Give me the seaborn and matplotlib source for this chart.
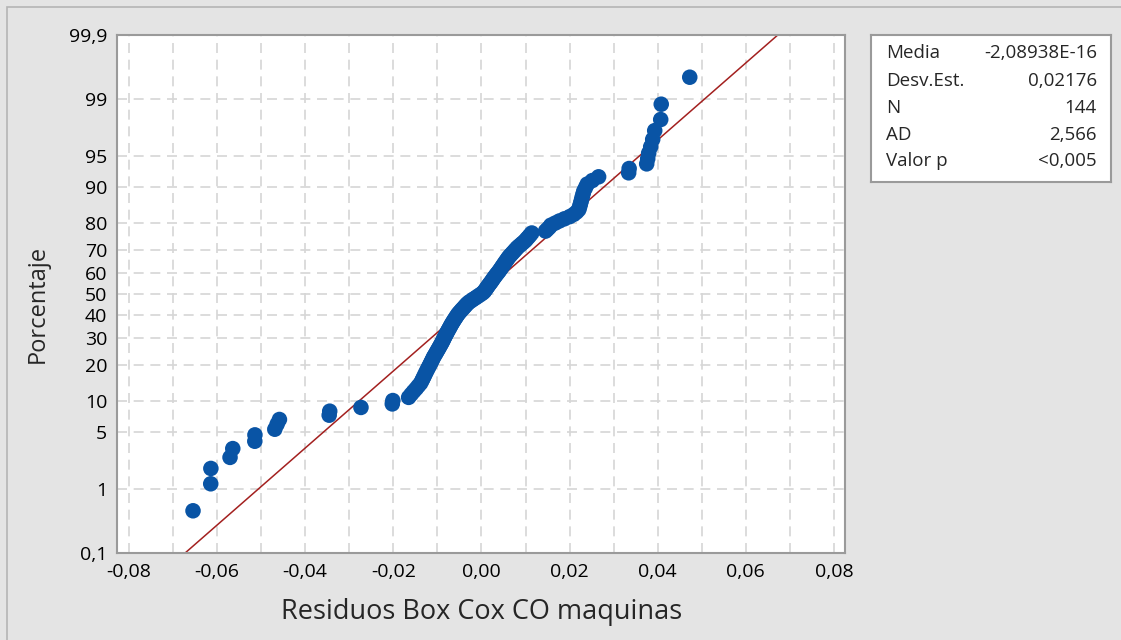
import numpy as np
import pandas as pd
import matplotlib
matplotlib.use("Agg")
import matplotlib.pyplot as plt
from matplotlib.patches import Rectangle
from matplotlib.ticker import FixedLocator, MultipleLocator, FuncFormatter
from statistics import NormalDist
import seaborn as sns

# Box-Cox residuals (sorted)
residuals = [
    -0.06545, -0.06143, -0.06140, -0.05705, -0.05643, -0.05143, -0.05140, -0.04689,
    -0.04636, -0.04584, -0.03455, -0.03443, -0.02734, -0.02023, -0.02011, -0.01652,
    -0.01595, -0.01539, -0.01482, -0.01432, -0.01382, -0.01352, -0.01325, -0.01298,
    -0.01273, -0.01248, -0.01223, -0.01198, -0.01173, -0.01150, -0.01127, -0.01105,
    -0.01084, -0.01057, -0.01032, -0.01009, -0.00984, -0.00961, -0.00939, -0.00916,
    -0.00895, -0.00875, -0.00857, -0.00839, -0.00818, -0.00800, -0.00780, -0.00761,
    -0.00741, -0.00720, -0.00702, -0.00682, -0.00661, -0.00639, -0.00618, -0.00595,
    -0.00573, -0.00550, -0.00527, -0.00498, -0.00468, -0.00439, -0.00407, -0.00377,
    -0.00348, -0.00316, -0.00277, -0.00227, -0.00180, -0.00127, -0.00080, -0.00030,
    0.00018, 0.00057, 0.00080, 0.00105, 0.00127, 0.00150, 0.00175, 0.00200,
    0.00225, 0.00248, 0.00270, 0.00295, 0.00320, 0.00345, 0.00373, 0.00400,
    0.00423, 0.00448, 0.00470, 0.00495, 0.00518, 0.00543, 0.00568, 0.00593,
    0.00618, 0.00650, 0.00684, 0.00718, 0.00752, 0.00786, 0.00820, 0.00866,
    0.00911, 0.00957, 0.01002, 0.01034, 0.01073, 0.01107, 0.01143, 0.01455,
    0.01500, 0.01545, 0.01577, 0.01673, 0.01768, 0.01882, 0.02002, 0.02095,
    0.02159, 0.02209, 0.02225, 0.02241, 0.02257, 0.02273, 0.02289, 0.02307,
    0.02327, 0.02364, 0.02400, 0.02516, 0.02659, 0.03341, 0.03352, 0.03750,
    0.03773, 0.03795, 0.03841, 0.03886, 0.03932, 0.04068, 0.04080, 0.04727,
]

# Summary statistics of the normal fit
mean_val = -2.08938e-16
std_val = 0.02176
stat_names = ["Media", "Desv.Est.", "N", "AD", "Valor p"]
stat_values = ["-2,08938E-16", "0,02176", "144", "2,566", "<0,005"]

x_ticks = [-0.08, -0.06, -0.04, -0.02, 0.00, 0.02, 0.04, 0.06, 0.08]
y_ticks = [0.1, 1, 5, 10, 20, 30, 40, 50, 60, 70, 80, 90, 95, 99, 99.9]
y_tick_labels = ["0,1", "1", "5", "10", "20", "30", "40", "50", "60", "70",
                 "80", "90", "95", "99", "99,9"]

x_label = "Residuos Box Cox CO maquinas"
y_label = "Porcentaje"

# Median-rank plotting positions
n = len(residuals)
ranks = np.arange(1, n + 1)
percent = (ranks - 0.3) / (n + 0.4) * 100.0
df = pd.DataFrame({"residuo": residuals, "porcentaje": percent})

# Fitted normal line across the probability range
nd = NormalDist()
fit_pct = [0.1, 99.9]
fit_x = [mean_val + std_val * nd.inv_cdf(p / 100.0) for p in fit_pct]
fit_df = pd.DataFrame({"residuo": fit_x, "porcentaje": fit_pct})

_ppf = np.vectorize(nd.inv_cdf, otypes=[float])
_cdf = np.vectorize(nd.cdf, otypes=[float])


def prob_forward(p):
    q = np.clip(np.asarray(p, dtype=float) / 100.0, 1e-9, 1 - 1e-9)
    return _ppf(q)


def prob_inverse(z):
    return _cdf(np.asarray(z, dtype=float)) * 100.0


sns.set_style("white")
plt.rcParams["font.family"] = ["Open Sans", "DejaVu Sans"]

BG = "#e4e4e4"
GRID = "#d6d6d6"
FRAME = "#9a9a9a"
BLUE = "#0954a5"
RED = "#a3201f"

fig = plt.figure(figsize=(11.21, 6.40), dpi=100, facecolor=BG)
fig.patches.append(Rectangle((7 / 1121, -0.05), 1.1, (640 - 7) / 640 + 0.05,
                             transform=fig.transFigure, facecolor="none",
                             edgecolor="#b4b4b4", linewidth=1.2, zorder=0))

ax = fig.add_axes([117 / 1121, 1 - 553 / 640, (845 - 117) / 1121, (553 - 35) / 640])
ax.set_facecolor("white")
ax.set_yscale("function", functions=(prob_forward, prob_inverse))

sns.lineplot(data=fit_df, x="residuo", y="porcentaje", ax=ax, color=RED,
             linewidth=1.1, zorder=2, sort=False)
sns.scatterplot(data=df, x="residuo", y="porcentaje", ax=ax, color=BLUE,
                s=125, linewidth=0, edgecolor="none", zorder=3)

ax.set_xlim(-0.0827, 0.0825)
ax.set_ylim(0.1, 99.9)

ax.xaxis.set_major_locator(FixedLocator(x_ticks))
ax.xaxis.set_minor_locator(MultipleLocator(0.01))
ax.xaxis.set_major_formatter(FuncFormatter(lambda v, pos: f"{v:.2f}".replace(".", ",").replace("-0,00", "0,00")))
ax.yaxis.set_major_locator(FixedLocator(y_ticks))
ax.yaxis.set_major_formatter(FuncFormatter(lambda v, pos: y_tick_labels[pos] if pos is not None and pos < len(y_tick_labels) else ""))
ax.yaxis.set_minor_locator(FixedLocator([]))

dash = (0, (6, 4))
ax.grid(True, which="major", axis="y", color=GRID, linewidth=1.2, linestyle=dash, zorder=0)
ax.grid(True, which="both", axis="x", color=GRID, linewidth=1.2, linestyle=dash, zorder=0)
ax.set_axisbelow(True)

ax.tick_params(axis="both", which="major", direction="out", length=5, width=1.2,
               color=FRAME, labelsize=14, labelcolor="black", pad=2)
ax.tick_params(axis="x", which="minor", length=0)
for lbl in ax.get_xticklabels() + ax.get_yticklabels():
    lbl.set_fontweight("medium")
for s in ax.spines.values():
    s.set_color(FRAME)
    s.set_linewidth(1.5)

ax.set_xlabel(x_label, fontsize=19.5)
ax.set_ylabel(y_label, fontsize=17)
ax.xaxis.set_label_coords((482 - 117) / 728, -(598 - 553) / 518)
ax.yaxis.set_label_coords(-(117 - 50) / 728, 0.5 + (293.5 - 303) / 518)

# Summary statistics box
box = fig.add_axes([871 / 1121, 1 - 182 / 640, (1111 - 871) / 1121, (182 - 35) / 640])
box.set_facecolor("white")
box.set_xticks([])
box.set_yticks([])
for s in box.spines.values():
    s.set_color(FRAME)
    s.set_linewidth(1.5)
row_y = [53.5, 81, 108, 135.5, 161.5]
for name, val, yy in zip(stat_names, stat_values, row_y):
    fig.text(886 / 1121, 1 - yy / 640, name, fontsize=13.5, ha="left", va="center",
             fontweight="medium")
    fig.text(1097 / 1121, 1 - yy / 640, val, fontsize=13.5, ha="right", va="center",
             fontweight="medium")

fig.savefig("out.png", dpi=100, facecolor=BG)
